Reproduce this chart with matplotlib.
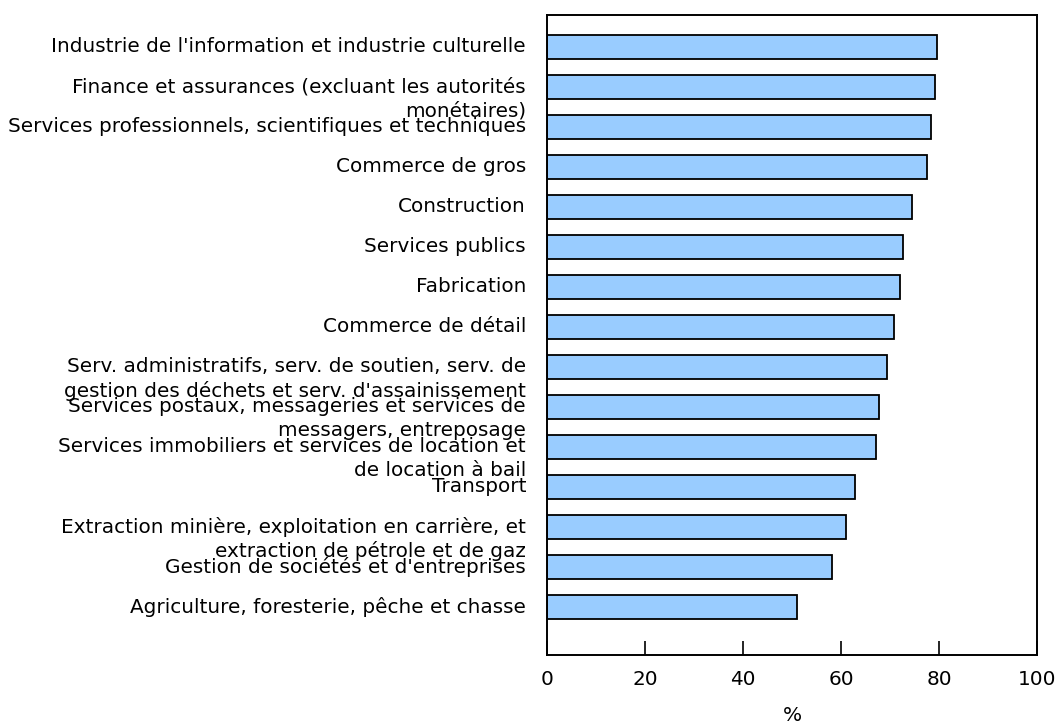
import matplotlib.pyplot as plt

# sectors, top to bottom
categories = [
    "Industrie de l'information et industrie culturelle",
    "Finance et assurances (excluant les autorités\nmonétaires)",
    "Services professionnels, scientifiques et techniques",
    "Commerce de gros",
    "Construction",
    "Services publics",
    "Fabrication",
    "Commerce de détail",
    "Serv. administratifs, serv. de soutien, serv. de\ngestion des déchets et serv. d'assainissement",
    "Services postaux, messageries et services de\nmessagers, entreposage",
    "Services immobiliers et services de location et\nde location à bail",
    "Transport",
    "Extraction minière, exploitation en carrière, et\nextraction de pétrole et de gaz",
    "Gestion de sociétés et d'entreprises",
    "Agriculture, foresterie, pêche et chasse",
]
values = [79.6, 79.1, 78.3, 77.5, 74.4, 72.7, 72.0, 70.8,
          69.4, 67.8, 67.1, 62.9, 61.0, 58.2, 51.0]
xticks = [0, 20, 40, 60, 80, 100]

plt.rcParams['font.family'] = ['DejaVu Sans']
fs = 14.4

fig = plt.figure(figsize=(10.56, 7.25), dpi=100)
ax = fig.add_axes([547 / 1056, 70 / 725, 490 / 1056, 640 / 725])

ypos = list(range(len(categories)))
ax.barh(ypos, values, height=0.6, color='#99CCFF', edgecolor='black', linewidth=1.3)

ax.set_xlim(0, 100)
ax.set_ylim(len(categories) - 1 + 1.2, -0.8)
ax.set_xticks(xticks)
ax.set_yticks([])
ax.tick_params(axis='x', direction='in', length=10, width=1.2, labelsize=fs, pad=11)
ax.set_xlabel('%', fontsize=fs, labelpad=12)
for s in ax.spines.values():
    s.set_linewidth(1.4)

# labels: first line centred on the bar, extra lines below it
for y, lab in zip(ypos, categories):
    for i, line in enumerate(lab.split('\n')):
        ax.annotate(line, xy=(0, y), xycoords=ax.get_yaxis_transform(),
                    xytext=(-21, -24 * i), textcoords='offset pixels',
                    ha='right', va='center', fontsize=fs, annotation_clip=False)

fig.savefig('out.png', dpi=100)
